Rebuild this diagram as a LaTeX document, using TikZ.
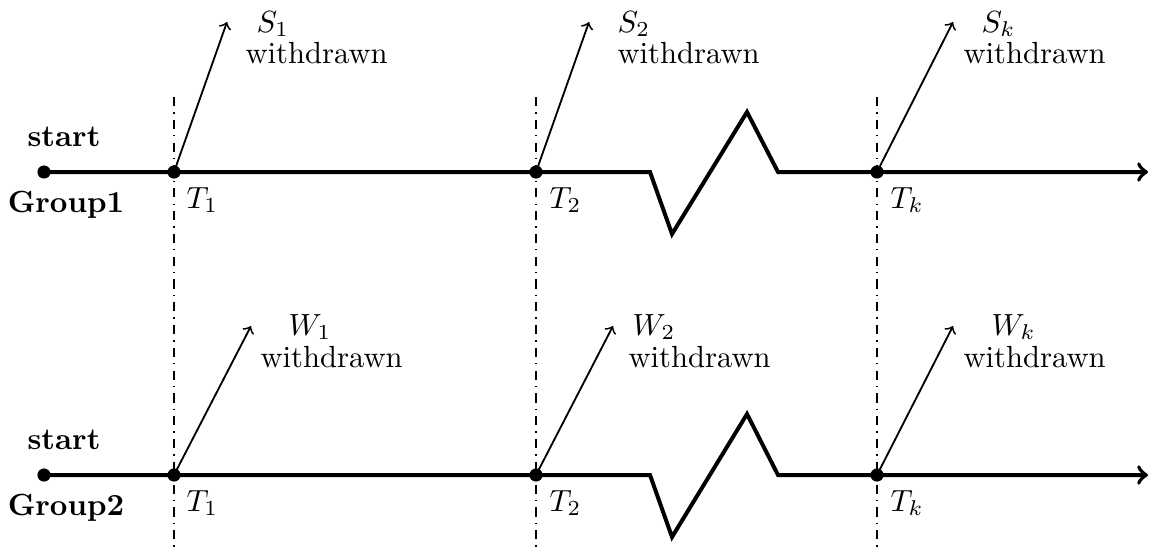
\documentclass[tikz,border=0pt]{standalone}
\begin{document}
\begin{tikzpicture}[x=0.3268pt,y=-0.3268pt,
  dot/.style={circle,fill=black,inner sep=0pt,minimum size=4.3pt},
  mainline/.style={line width=1.3pt,-to,line join=miter},
  vline/.style={line width=0.45pt,dashdotted},
  wdarrow/.style={line width=0.6pt,-to},
  lbl/.style={inner sep=0pt,anchor=base west},
  glbl/.style={inner sep=0pt,anchor=base}]
\useasboundingbox (0,0) rectangle (1159,550);
% vertical dash-dot guides
\coordinate (v1t) at (174,97); \coordinate (v1b) at (174,550);
\coordinate (v2t) at (536,97); \coordinate (v2b) at (536,550);
\coordinate (v3t) at (877,97); \coordinate (v3b) at (877,550);
\draw[vline] (v1t) -- (v1b);
\draw[vline] (v2t) -- (v2b);
\draw[vline] (v3t) -- (v3b);
% ---------- Group 1 ----------
\node[dot] (s1) at (44,172) {};
\node[dot] (a1) at (174,172) {};
\node[dot] (a2) at (536,172) {};
\node[dot] (a3) at (877,172) {};
\coordinate (e1) at (1148,172);
\draw[mainline] (s1.center) -- (650,172) -- (672,234) -- (747,112) -- (778,172) -- (e1);
\coordinate (p1) at (227,22);
\coordinate (p2) at (589,22);
\coordinate (p3) at (953,22);
\draw[wdarrow] (a1.center) -- (p1);
\draw[wdarrow] (a2.center) -- (p2);
\draw[wdarrow] (a3.center) -- (p3);
\node[glbl] (st1) at (64,146) {\textbf{start}};
\node[glbl] (g1) at (66,212) {\textbf{Group1}};
\node[lbl] (ta1) at (186,208) {$T_1$};
\node[lbl] (ta2) at (549,208) {$T_2$};
\node[lbl] (ta3) at (890,208) {$T_k$};
\node[lbl] (sa1) at (256,32) {$S_1$};
\node[lbl] (wa1) at (245,63) {withdrawn};
\node[lbl] (sa2) at (617,32) {$S_2$};
\node[lbl] (wa2) at (617,63) {withdrawn};
\node[lbl] (sa3) at (981,32) {$S_k$};
\node[lbl] (wa3) at (963,63) {withdrawn};
% ---------- Group 2 ----------
\node[dot] (s2) at (44,475) {};
\node[dot] (b1) at (174,475) {};
\node[dot] (b2) at (536,475) {};
\node[dot] (b3) at (877,475) {};
\coordinate (e2) at (1148,475);
\draw[mainline] (s2.center) -- (650,475) -- (672,537) -- (747,414) -- (778,475) -- (e2);
\coordinate (q1) at (251,326);
\coordinate (q2) at (613,326);
\coordinate (q3) at (953,326);
\draw[wdarrow] (b1.center) -- (q1);
\draw[wdarrow] (b2.center) -- (q2);
\draw[wdarrow] (b3.center) -- (q3);
\node[glbl] (st2) at (64,449) {\textbf{start}};
\node[glbl] (g2) at (66,515) {\textbf{Group2}};
\node[lbl] (tb1) at (186,511) {$T_1$};
\node[lbl] (tb2) at (549,511) {$T_2$};
\node[lbl] (tb3) at (890,511) {$T_k$};
\node[lbl] (sb1) at (288,335) {$W_1$};
\node[lbl] (wb1) at (260,367) {withdrawn};
\node[lbl] (sb2) at (632,335) {$W_2$};
\node[lbl] (wb2) at (628,367) {withdrawn};
\node[lbl] (sb3) at (991,335) {$W_k$};
\node[lbl] (wb3) at (963,367) {withdrawn};
\end{tikzpicture}
\end{document}
